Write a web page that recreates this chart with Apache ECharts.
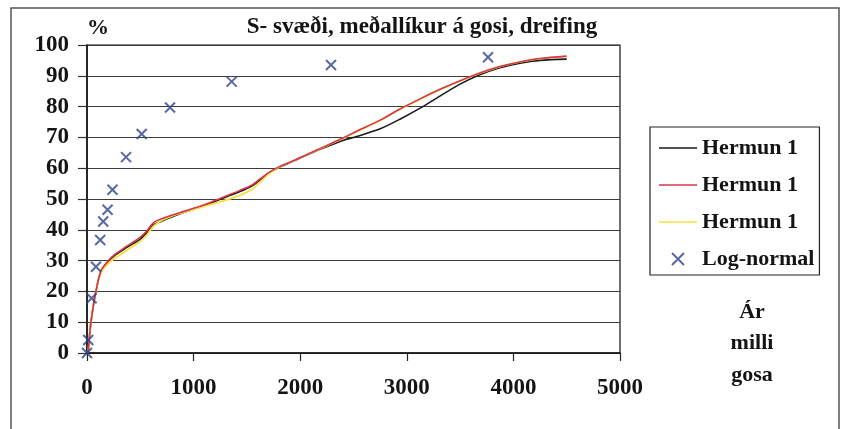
<!DOCTYPE html>
<html>
<head>
<meta charset="utf-8">
<script src="https://cdn.jsdelivr.net/npm/echarts@6/dist/echarts.min.js"></script>
<style>
html,body{margin:0;padding:0;background:#fff;}
#chart{width:841px;height:429px;}
</style>
</head>
<body>
<div id="chart"></div>
<script>
// ---- data ----
const titleText = 'S- svæði, meðallíkur á gosi, dreifing';
const xTicks = [0, 1000, 2000, 3000, 4000, 5000];
const yTicks = [0, 10, 20, 30, 40, 50, 60, 70, 80, 90, 100];

const blackCurve = [
  [10,0],[20,4],[30,8],[45,12],[60,15.5],[75,18.5],[90,21],[105,23.5],[120,25.3],[140,27],
  [185,29.2],[250,31.4],[370,34.2],[500,37],[560,39],[620,41.5],[700,42.8],[800,44.2],[900,45.5],
  [1000,46.7],[1100,47.8],[1200,49.2],[1300,50.6],[1435,52.4],[1550,54.3],[1623,56.2],[1700,58.3],
  [1810,60.4],[1935,62.3],[2050,64.1],[2200,66.3],[2400,69],[2530,70.3],[2750,72.8],[2940,76],
  [3150,80],[3310,83.4],[3500,87.3],[3690,90.4],[3874,92.6],[4062,94.1],[4250,95],[4500,95.4]
];
const redCurve = [
  [10,0],[20,4],[30,8],[45,12],[60,15.5],[75,18.5],[90,21],[105,23.5],[120,25.5],[140,27.3],
  [185,29.4],[250,31.7],[370,34.6],[500,37.6],[560,39.6],[620,42.2],[700,43.6],[800,44.8],[900,45.9],
  [1000,47],[1100,48.1],[1200,49.5],[1300,50.9],[1435,52.8],[1550,54.6],[1623,56.5],[1700,58.5],
  [1810,60.6],[1935,62.4],[2050,64.2],[2200,66.6],[2400,69.8],[2530,72],[2750,75.6],[2940,79.3],
  [3124,82.5],[3311,85.6],[3500,88.4],[3690,91],[3874,93],[4062,94.5],[4250,95.6],[4500,96.4]
];
const yellowCurve = [
  [10,0],[20,4],[30,8],[45,12],[60,15.5],[75,18.5],[90,21],[105,23.3],[120,25],[140,26.6],
  [185,28.5],[250,30.5],[370,33.3],[500,36.2],[560,38.3],[620,41],[700,43],[800,44.5],[900,45.6],
  [1000,46.6],[1100,47.6],[1200,48.6],[1300,49.6],[1435,51.2],[1550,53.2],[1623,55.4],[1700,58],
  [1810,60.5],[1935,62.4],[2050,64.2],[2200,66.5],[2400,69.7],[2530,71.9],[2750,75.5],[2940,79.2],
  [3124,82.4],[3311,85.5],[3500,88.3],[3690,90.9],[3874,93],[4062,94.5],[4250,95.6],[4500,96.2]
];
const logNormal = [
  [0,0],[12,4.2],[43,17.8],[84,28],[124,36.7],[152,42.7],[193,46.5],[239,53],
  [366,63.6],[513,71.1],[779,79.7],[1357,88.1],[2289,93.5],[3762,96]
];
const seriesNames = ['Hermun 1', 'Hermun 1 ', 'Hermun 1  ', 'Log-normal'];
const rightLabels = ['Ár', 'milli', 'gosa'];

// ---- chart ----
const FONT = "'Liberation Serif', 'Times New Roman', serif";
const chart = echarts.init(document.getElementById('chart'), null, {renderer: 'canvas'});
const crossPath = 'path://M0,0L10,10M10,0L0,10';
const lineIcon = 'path://M0,0H38V1.6H0Z';

const option = {
  backgroundColor: '#fff',
  animation: false,
  grid: {
    left: 87, right: 221, top: 45, bottom: 76,
    show: true, borderColor: '#111', borderWidth: 1.2, backgroundColor: 'transparent'
  },
  xAxis: {
    type: 'value', min: xTicks[0], max: xTicks[xTicks.length-1], interval: 1000,
    axisLine: {show: true, lineStyle: {color: '#111', width: 1.5}},
    axisTick: {show: true, inside: false, length: 8, lineStyle: {color: '#222', width: 1.2}},
    axisLabel: {margin: 24, fontFamily: FONT, fontWeight: 'bold', fontSize: 23, color: '#141414',
      formatter: v => String(v)},
    splitLine: {show: false}
  },
  yAxis: {
    type: 'value', min: yTicks[0], max: yTicks[yTicks.length-1], interval: 10,
    axisLine: {show: true, lineStyle: {color: '#111', width: 1.5}},
    axisTick: {show: true, inside: false, length: 9, lineStyle: {color: '#333', width: 1.2}},
    axisLabel: {margin: 18, fontFamily: FONT, fontWeight: 'bold', fontSize: 23, color: '#141414',
      formatter: v => String(v)},
    splitLine: {show: true, lineStyle: {color: '#3c3c3c', width: 1.2}}
  },
  legend: {
    orient: 'vertical', left: 650, top: 127,
    padding: [10, 5, 5, 9], itemGap: 15, itemWidth: 38, itemHeight: 12,
    borderColor: '#222', borderWidth: 1.2, backgroundColor: '#fff',
    data: [
      {name: seriesNames[0], icon: lineIcon},
      {name: seriesNames[1], icon: lineIcon},
      {name: seriesNames[2], icon: lineIcon},
      {name: seriesNames[3]}
    ],
    formatter: n => n.trim(),
    textStyle: {fontFamily: FONT, fontWeight: 'bold', fontSize: 22, color: '#141414', lineHeight: 22}
  },
  graphic: [
    {type: 'rect', shape: {x: 11, y: 8, width: 828, height: 440}, style: {fill: 'none', stroke: '#555', lineWidth: 1.5}, z: -1},
    {type: 'text', style: {text: titleText, x: 422, y: 27, align: 'center', verticalAlign: 'middle',
      font: "bold 23px " + FONT, fill: '#141414'}},
    {type: 'text', style: {text: '%', x: 98, y: 28, align: 'center', verticalAlign: 'middle', font: "bold 22px " + FONT, fill: '#141414'}},
    {type: 'text', style: {text: rightLabels[0], x: 752, y: 312, align: 'center', verticalAlign: 'middle', font: "bold 22px " + FONT, fill: '#141414'}},
    {type: 'text', style: {text: rightLabels[1], x: 752, y: 343, align: 'center', verticalAlign: 'middle', font: "bold 22px " + FONT, fill: '#141414'}},
    {type: 'text', style: {text: rightLabels[2], x: 752, y: 375, align: 'center', verticalAlign: 'middle', font: "bold 22px " + FONT, fill: '#141414'}}
  ],
  series: [
    {name: seriesNames[0], type: 'line', data: blackCurve, symbol: 'none', smooth: 0.3,
      lineStyle: {color: '#1a1a1a', width: 1.6}, itemStyle: {color: '#1a1a1a'}, z: 2},
    {name: seriesNames[1], type: 'line', data: redCurve, symbol: 'none', smooth: 0.3,
      lineStyle: {color: '#d8364a', width: 1.6}, itemStyle: {color: '#d8364a'}, z: 4},
    {name: seriesNames[2], type: 'line', data: yellowCurve, symbol: 'none', smooth: 0.3,
      lineStyle: {color: '#f4e23c', width: 1.8}, itemStyle: {color: '#f4e23c'}, z: 3},
    {name: seriesNames[3], type: 'scatter', data: logNormal, symbol: crossPath, symbolSize: 10,
      itemStyle: {color: 'none', borderColor: '#2d4488', borderWidth: 2}, z: 5}
  ]
};
chart.setOption(option);
</script>
</body>
</html>
